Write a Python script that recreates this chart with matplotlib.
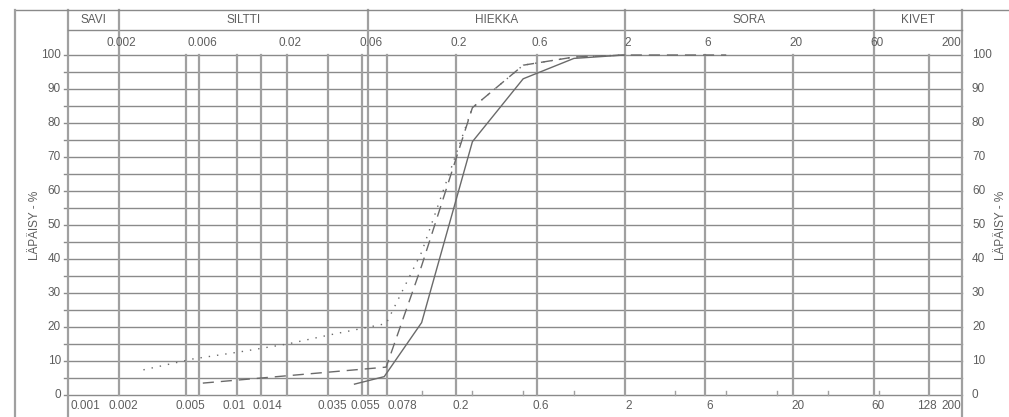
import matplotlib
matplotlib.use("Agg")
import math
import matplotlib.pyplot as plt
from matplotlib.lines import Line2D

# ---- data ----
solid_size = [0.05, 0.075, 0.125, 0.25, 0.5, 1, 2]
solid_pass = [3.2, 5.4, 21.3, 74.5, 93.0, 99.0, 100]

dashed_size = [0.0063, 0.077, 0.125, 0.25, 0.5, 1, 2, 8]
dashed_pass = [3.5, 8.2, 38.0, 84.5, 97.0, 99.4, 100, 100]

dotted_size = [0.0028, 0.0055, 0.0105, 0.02, 0.035, 0.077, 0.125, 0.25, 0.5, 1, 2]
dotted_pass = [7.4, 10.6, 12.7, 15.0, 17.6, 21.0, 42.0, 84.5, 97.0, 99.4, 100]

grid_x = [0.002, 0.005, 0.006, 0.01, 0.014, 0.02, 0.035, 0.055, 0.06, 0.078,
          0.2, 0.6, 2, 6, 20, 60, 128]
minor_x = [0.125, 0.25, 0.5, 1, 4, 8, 16, 32, 64]
bottom_vals = [0.001, 0.002, 0.005, 0.01, 0.014, 0.035, 0.055, 0.078, 0.2, 0.6,
               2, 6, 20, 60, 128, 200]
bottom_labels = ["0.001", "0.002", "0.005", "0.01", "0.014", "0.035", "0.055",
                 "0.078", "0.2", "0.6", "2", "6", "20", "60", "128", "200"]
top_vals = [0.002, 0.006, 0.02, 0.06, 0.2, 0.6, 2, 6, 20, 60, 200]
top_labels = ["0.002", "0.006", "0.02", "0.06", "0.2", "0.6", "2", "6", "20", "60", "200"]
class_bounds = [0.001, 0.002, 0.06, 2, 60, 200]
class_names = ["SAVI", "SILTTI", "HIEKKA", "SORA", "KIVET"]
y_ticks = [0, 10, 20, 30, 40, 50, 60, 70, 80, 90, 100]
y_grid = list(range(0, 101, 5))
ylabel = "LÄPÄISY - %"

# ---- style ----
plt.rcParams['font.family'] = ["Liberation Sans Narrow", "Liberation Sans", "DejaVu Sans"]
TXT = "#5e5e5e"
LINE = "#6a6a6a"
GRIDV = "#a0a0a0"
GRIDH = "#8a8a8a"
NUM = 8.5

W, H = 1009, 417
fig = plt.figure(figsize=(W / 100, H / 100), dpi=100)
L, R, T, B = 68, 962, 55, 395
ax = fig.add_axes([L / W, 1 - B / H, (R - L) / W, (B - T) / H])
ax.set_xscale("log")
ax.set_xlim(0.001, 200)
ax.set_ylim(0, 100)
for s in ax.spines.values():
    s.set_visible(False)
ax.set_xticks([])
ax.set_yticks([])
ax.minorticks_off()
ax.patch.set_alpha(0)


def ya(py):
    return (B - py) / (B - T)


def xa(px):
    return (px - L) / (R - L)


xt = ax.get_xaxis_transform()
yt = ax.get_yaxis_transform()

# horizontal grid
for v in y_grid:
    ax.plot([xa(64), 1], [v, v], transform=yt, color=GRIDH, lw=1.0, zorder=1, clip_on=False)

# vertical grid
for v in grid_x:
    ax.plot([v, v], [0, 1], transform=xt, color=GRIDV, lw=1.6, zorder=1, clip_on=False)
for v in minor_x:
    ax.plot([v, v], [0, ya(B - 4)], transform=xt, color=GRIDV, lw=1.0, zorder=1, clip_on=False)

# frame lines
ax.plot([0, 0], [ya(417), ya(10)], transform=ax.transAxes, color=GRIDV, lw=1.6, clip_on=False)
ax.plot([1, 1], [ya(417), ya(10)], transform=ax.transAxes, color=GRIDV, lw=1.6, clip_on=False)
ax.plot([0, 1], [ya(30), ya(30)], transform=ax.transAxes, color=GRIDH, lw=1.0, clip_on=False)
fig.add_artist(Line2D([15 / W, 1.0], [1 - 10 / H, 1 - 10 / H], transform=fig.transFigure,
                      color=GRIDH, lw=1.0))
fig.add_artist(Line2D([15 / W, 15 / W], [0, 1 - 10 / H], transform=fig.transFigure,
                      color=GRIDV, lw=1.6))
for v in class_bounds[1:-1]:
    ax.plot([v, v], [1, ya(10)], transform=xt, color=GRIDV, lw=1.6, clip_on=False)

# class names
for i, name in enumerate(class_names):
    a, b = class_bounds[i], class_bounds[i + 1]
    c = 10 ** ((math.log10(a) + math.log10(b)) / 2)
    ax.text(c, ya(20), name, transform=xt, ha="center", va="center",
            fontsize=8.5, color=TXT, clip_on=False)

# top labels
for v, lab in zip(top_vals, top_labels):
    if v == 200:
        ax.text(v * 0.985, ya(43), lab, transform=xt, ha="right", va="center",
                fontsize=NUM, color=TXT)
    else:
        ax.text(v * 1.04, ya(43), lab, transform=xt, ha="center", va="center",
                fontsize=NUM, color=TXT)

# bottom labels
for v, lab in zip(bottom_vals, bottom_labels):
    if v == 0.001:
        ha, xx = "left", v * 1.04
    elif v == 200:
        ha, xx = "right", v * 0.985
    elif v == 0.078:
        ha, xx = "left", v * 1.0
    elif v == 128:
        ha, xx = "center", v * 0.97
    elif v == 0.01:
        ha, xx = "center", v * 0.96
    elif v == 0.014:
        ha, xx = "center", v * 1.09
    else:
        ha, xx = "center", v * 1.06
    ax.text(xx, ya(406), lab, transform=xt, ha=ha, va="center", fontsize=NUM, color=TXT)

# y tick labels
for v in y_ticks:
    ax.text(xa(61), v, str(v), transform=yt, ha="right", va="center", fontsize=NUM, color=TXT)
    ax.text(xa(972), v, str(v), transform=yt, ha="left", va="center", fontsize=NUM, color=TXT)

ax.text(xa(35), 50, ylabel, transform=yt, rotation=90, ha="center", va="center",
        fontsize=8.5, color=TXT)
ax.text(xa(1001), 50, ylabel, transform=yt, rotation=90, ha="center", va="center",
        fontsize=8.5, color=TXT)

# curves
ax.plot(solid_size, solid_pass, color=LINE, lw=1.0, zorder=3, clip_on=False)
ax.plot(dashed_size, dashed_pass, color=LINE, lw=1.0, ls=(0, (8, 5)), zorder=3, clip_on=False)
ax.plot(dotted_size, dotted_pass, color=LINE, lw=1.0, ls=(0, (1, 5)), zorder=3, clip_on=False)

fig.savefig("out.png", dpi=100)
